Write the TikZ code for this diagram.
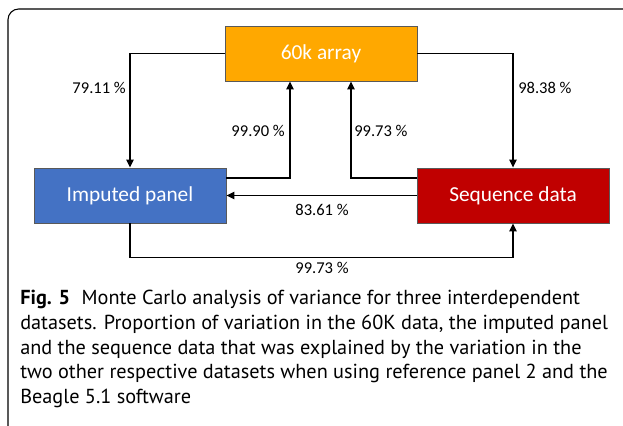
\documentclass[tikz,border=0pt]{standalone}
\usepackage{fontspec}
\setmainfont{Carlito}
\newfontfamily\capfont{PT Sans}
\usetikzlibrary{arrows.meta,calc}
\definecolor{arrorange}{HTML}{FFA800}
\definecolor{impblue}{HTML}{4472C4}
\definecolor{seqred}{HTML}{C00000}
\tikzset{
  databox/.style={draw=black!65, line width=0.6pt, minimum width=144pt, minimum height=41.25pt,
    inner sep=0pt, text=white, font=\fontsize{16}{19}\selectfont},
  conn/.style={line width=1.2pt, -{Triangle[length=6pt,width=5.5pt]}},
  pct/.style={inner sep=0.75pt, font=\fontsize{12.4}{15}\selectfont}
}
\begin{document}
\begin{tikzpicture}[x=0.75pt,y=0.75pt,yscale=-1,xscale=1]
\useasboundingbox (0,0) rectangle (623,425);

%Shape: Frame
\draw [line width=0.8pt, rounded corners=8] (624,9) -- (8,9) -- (8,426) ;

%Shape: Rectangle [60k array]
\node [databox, fill=arrorange] (arr) at (321,53.5) {60k array};
%Shape: Rectangle [Imputed panel]
\node [databox, fill=impblue] (imp) at (130,195.5) {Imputed panel};
%Shape: Rectangle [Sequence data]
\node [databox, fill=seqred] (seq) at (513,195.5) {Sequence data};

%Straight Lines
\draw [conn] (arr.west) -| (imp.north) ;
\draw [conn] (arr.east) -| (seq.north) ;
\draw [conn] ($(imp.east)+(0,-17.5)$) -| ($(arr.south)+(-31,0)$) ;
\draw [conn] ($(seq.west)+(0,-17.5)$) -| ($(arr.south)+(30,0)$) ;
\draw [conn] (seq.west) -- (imp.east) ;
\draw [conn] (imp.south) -- ++(0,34) -| (seq.south) ;

% Text Node
\node [pct, anchor=east] (l1) at (127,88) {79.11 \%};
% Text Node
\node [pct, anchor=west] (l2) at (517,88) {98.38 \%};
% Text Node
\node [pct, anchor=east] (l3) at (286,131) {99.90 \%};
% Text Node
\node [pct, anchor=west] (l4) at (353,131) {99.73 \%};
% Text Node
\node [pct] (l5) at (322,210) {83.61 \%};
% Text Node
\node [pct] (l6) at (322,268) {99.73 \%};

% Caption
\node [anchor=north west, inner sep=0pt, align=left,
  font=\capfont\fontsize{15.2}{18.5}\selectfont] (cap) at (20,290)
  {\textbf{Fig. 5}\hspace{0.3em} Monte Carlo analysis of variance for three interdependent\\
   datasets. Proportion of variation in the 60K data, the imputed panel\\
   and the sequence data that was explained by the variation in the\\
   two other respective datasets when using reference panel 2 and the\\
   Beagle 5.1 software};

\end{tikzpicture}
\end{document}
